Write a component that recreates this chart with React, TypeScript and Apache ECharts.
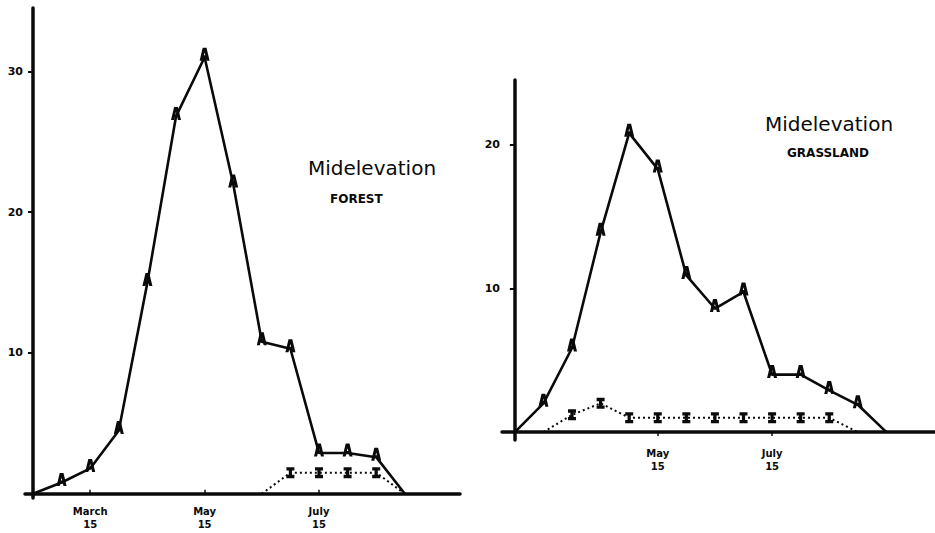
import React, { useEffect, useRef } from "react";
import * as echarts from "echarts";

// Half-month sampling dates for each site (x = position in these lists)
const forestPeriods = ["Feb 15", "Mar 1", "Mar 15", "Apr 1", "Apr 15", "May 1", "May 15", "Jun 1", "Jun 15", "Jul 1", "Jul 15", "Aug 1", "Aug 15", "Sep 1"];
const grassPeriods = ["Mar 1", "Mar 15", "Apr 1", "Apr 15", "May 1", "May 15", "Jun 1", "Jun 15", "Jul 1", "Jul 15", "Aug 1", "Aug 15", "Sep 1", "Sep 15"];

// Counts per sampling date ("A" marked curve and "I" marked curve)
const forestA = [0, 0.8, 1.8, 4.5, 15, 26.8, 31, 22, 10.8, 10.3, 2.9, 2.9, 2.6, 0];
const forestI: (number | null)[] = [null, null, null, null, null, null, null, null, 0, 1.5, 1.5, 1.5, 1.5, 0];
const grassA = [0, 2.0, 5.85, 13.9, 20.8, 18.3, 10.9, 8.6, 9.75, 4.0, 4.0, 2.9, 1.9, 0];
const grassI: (number | null)[] = [null, 0, 1.2, 2.0, 1.0, 1.0, 1.0, 1.0, 1.0, 1.0, 1.0, 1.0, 0, null];

// Tick labels on the date axes
const forestTickDates = ["Mar 15", "May 15", "Jul 15"];
const forestTickLabels = ["March\n15", "May\n15", "July\n15"];
const grassTickDates = ["May 15", "Jul 15"];
const grassTickLabels = ["May\n15", "July\n15"];

// Count axis tick labels
const forestYTicks = [10, 20, 30];
const grassYTicks = [10, 20];

const A_GLYPH =
  "path://M0,12 L3.1,0 L6.9,0 L10,12 L6.9,12 L6.3,9.6 L3.7,9.6 L3.1,12 Z M4.3,6.9 L5.7,6.9 L5,4.4 Z";
const I_GLYPH =
  "path://M0,0 L8,0 L8,3 L5.6,3 L5.6,7 L8,7 L8,10 L0,10 L0,7 L2.4,7 L2.4,3 L0,3 Z";

const INK = "#0a0a0a";
const FONT = "DejaVu Sans";

function toPoints(values: (number | null)[]) {
  const last = values.length - 1;
  const pts: any[] = [];
  values.forEach((v, i) => {
    if (v === null) return;
    const isEnd = v === 0 && (i === 0 || i === last || values[i - 1] === null || values[i + 1] === null || values[i + 1] === undefined);
    pts.push(isEnd ? { value: [i, v], symbol: "none" } : { value: [i, v] });
  });
  return pts;
}

function tickPositions(periods: string[], dates: string[]) {
  return dates.map((d) => periods.indexOf(d));
}

export default function App() {
  const ref = useRef<HTMLDivElement>(null);

  useEffect(() => {
    if (!ref.current) return;
    const chart = echarts.init(ref.current, null, { renderer: "svg" });

    const forestTicks = tickPositions(forestPeriods, forestTickDates);
    const grassTicks = tickPositions(grassPeriods, grassTickDates);

    const axisLine = { onZero: true, lineStyle: { color: INK, width: 3.5 } };
    const xLabel = (ticks: number[], labels: string[]) => ({
      customValues: ticks,
      formatter: (v: number) => labels[ticks.indexOf(Math.round(v))] ?? "",
      color: INK,
      fontFamily: FONT,
      fontWeight: "bold" as const,
      fontSize: 10,
      lineHeight: 13,
      margin: 7,
    });
    const yLabel = (ticks: number[]) => ({
      customValues: ticks,
      color: INK,
      fontFamily: FONT,
      fontWeight: "bold" as const,
      fontSize: 11,
      margin: 2,
    });

    const aSeries = (idx: number, values: number[]) => ({
      type: "line",
      xAxisIndex: idx,
      yAxisIndex: idx,
      data: toPoints(values),
      symbol: A_GLYPH,
      symbolSize: [10, 13],
      symbolOffset: [0, -3],
      lineStyle: { color: INK, width: 2.6 },
      itemStyle: { color: INK },
      z: 3,
    });
    const iSeries = (idx: number, values: (number | null)[]) => ({
      type: "line",
      xAxisIndex: idx,
      yAxisIndex: idx,
      data: toPoints(values),
      symbol: I_GLYPH,
      symbolSize: [8, 11],
      lineStyle: { color: INK, width: 2, type: [2, 3] },
      itemStyle: { color: INK },
      z: 2,
    });

    chart.setOption({
      animation: false,
      backgroundColor: "#ffffff",
      grid: [
        { left: 25, right: 475, top: 8, bottom: 35 },
        { left: 502, right: 0, top: 80, bottom: 93 },
      ],
      xAxis: [
        {
          type: "value",
          gridIndex: 0,
          min: -0.28,
          max: 14.93,
          axisLine,
          splitLine: { show: false },
          axisTick: { customValues: forestTicks, inside: true, length: 4, lineStyle: { color: INK, width: 1.5 } },
          axisLabel: xLabel(forestTicks, forestTickLabels),
        },
        {
          type: "value",
          gridIndex: 1,
          min: -0.45,
          max: 14.7,
          axisLine,
          splitLine: { show: false },
          axisTick: { customValues: grassTicks, length: 4, lineStyle: { color: INK, width: 1.5 } },
          axisLabel: xLabel(grassTicks, grassTickLabels),
        },
      ],
      yAxis: [
        {
          type: "value",
          gridIndex: 0,
          min: -0.3,
          max: 34.5,
          axisLine,
          splitLine: { show: false },
          axisTick: { customValues: forestYTicks, length: 5, lineStyle: { color: INK, width: 2 } },
          axisLabel: yLabel(forestYTicks),
        },
        {
          type: "value",
          gridIndex: 1,
          min: -0.55,
          max: 24.5,
          axisLine,
          splitLine: { show: false },
          axisTick: { customValues: grassYTicks, length: 5, lineStyle: { color: INK, width: 2 } },
          axisLabel: yLabel(grassYTicks),
        },
      ],
      series: [aSeries(0, forestA), iSeries(0, forestI), aSeries(1, grassA), iSeries(1, grassI)],
      graphic: [
        { type: "text", left: 308, top: 158, style: { text: "Midelevation", font: `20px "${FONT}"`, fill: INK } },
        { type: "text", left: 330, top: 193, style: { text: "FOREST", font: `bold 12px "${FONT}"`, fill: INK } },
        { type: "text", left: 765, top: 114, style: { text: "Midelevation", font: `20px "${FONT}"`, fill: INK } },
        { type: "text", left: 787, top: 147, style: { text: "GRASSLAND", font: `bold 12px "${FONT}"`, fill: INK } },
      ],
    });

    return () => chart.dispose();
  }, []);

  return (
    <div
      ref={ref}
      style={{ position: "fixed", left: 0, top: 0, width: 935, height: 533, background: "#fff" }}
    />
  );
}
